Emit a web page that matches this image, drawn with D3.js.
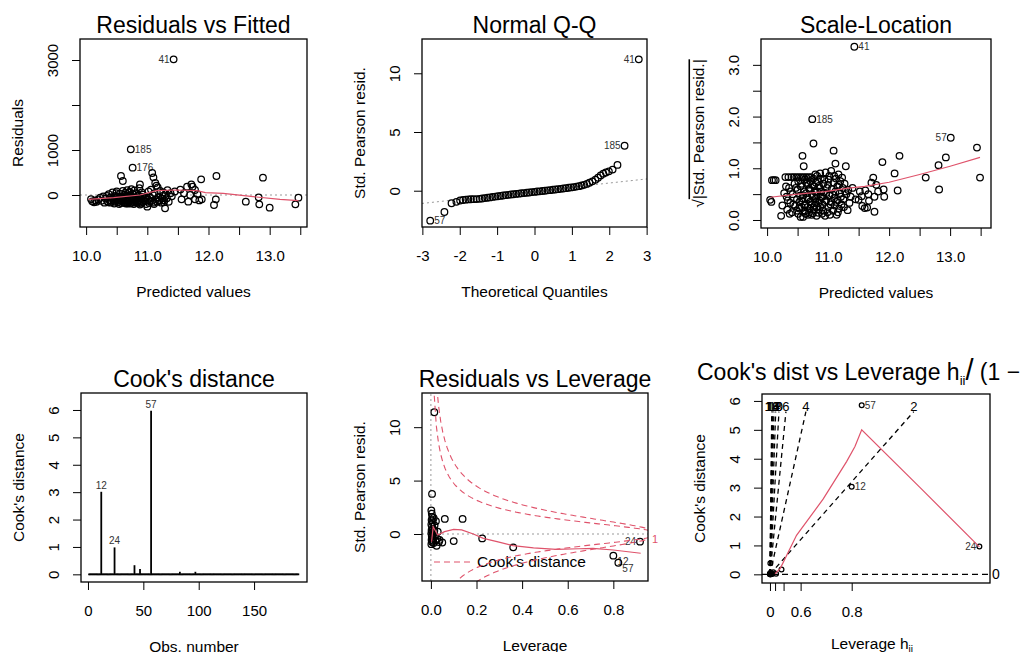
<!DOCTYPE html>
<html>
<head>
<meta charset="utf-8">
<script src="https://cdnjs.cloudflare.com/ajax/libs/d3/7.8.5/d3.min.js"></script>
<style>
    body { margin: 0; background: #fff; }
    svg text { font-family: "Liberation Sans", Arial, sans-serif; fill: #000; }
</style>
</head>
<body>
<div class="B"></div>
<script>
// ---- Residuals vs Fitted : [predicted value, residual]
var residFitted = [
    [10.08, -90], [10.10, -140], [10.13, -160], [10.15, -120], [10.17, -150], [10.20, -100], [10.23, -60], [10.25, -130], [10.28, -30], [10.30, -170],
    [10.32, -80], [10.35, -140], [10.37, 20], [10.38, -110], [10.40, -170], [10.42, -50], [10.43, 60], [10.45, -130], [10.46, -190], [10.48, -20],
    [10.50, -90], [10.50, 80], [10.52, -160], [10.53, -120], [10.55, 30], [10.56, -60], [10.57, -180], [10.58, -140], [10.60, 90], [10.61, -100],
    [10.62, -30], [10.63, -170], [10.64, 50], [10.65, -130], [10.66, -70], [10.67, 110], [10.68, -190], [10.69, -10], [10.70, -150], [10.71, 70],
    [10.72, -110], [10.73, -40], [10.74, 130], [10.75, -170], [10.76, 20], [10.77, -90], [10.78, -200], [10.79, 100], [10.80, -60], [10.81, -140],
    [10.82, 40], [10.83, -180], [10.85, -20], [10.86, -120], [10.87, 150], [10.88, -210], [10.90, -80], [10.91, 60], [10.92, -160], [10.93, 10],
    [10.34, -20], [10.36, -160], [10.39, -60], [10.41, -120], [10.44, -90], [10.47, -150], [10.49, 40], [10.51, -30], [10.54, -200], [10.56, -100],
    [10.59, -50], [10.61, -160], [10.63, 10], [10.65, -190], [10.67, -110], [10.69, -140], [10.70, 60], [10.72, -190], [10.74, -70], [10.75, -130],
    [10.77, 30], [10.79, -160], [10.80, -110], [10.82, -80], [10.84, -150], [10.86, -50], [10.88, -140], [10.90, -190], [10.92, -40], [10.94, -110],
    [10.57, 422], [10.60, 311], [10.73, 1015], [10.76, 607], [10.88, 235],
    [10.96, -140], [10.97, -70], [10.98, -200], [10.99, -40], [11.00, -259], [11.01, -100], [11.02, 80], [11.03, -180], [11.04, -140], [11.05, -60],
    [11.06, 120], [11.08, -130], [11.08, 489], [11.09, 0], [11.10, 393], [11.10, -170], [11.11, -200], [11.12, 40], [11.13, 267], [11.14, -90],
    [11.15, 207], [11.16, -150], [11.17, 170], [11.18, -50], [11.19, -130], [11.20, -110], [11.21, 90], [11.23, -170], [11.24, -80], [11.25, -20],
    [11.26, 60], [11.27, -160], [11.28, -120], [11.29, -296], [11.30, 30], [11.32, -70], [11.33, 110], [11.35, -150], [11.38, 40], [11.40, -30],
    [11.43, 3015], [11.45, 80],
    [11.54, 120], [11.56, -96], [11.60, 40], [11.65, 185], [11.67, -148], [11.70, 0], [11.72, 237], [11.74, 185], [11.78, 111], [11.78, -96],
    [11.82, 20], [11.85, -120], [11.88, 348], [11.89, -96],
    [12.09, -222], [12.12, -96], [12.13, 422], [12.61, -148], [12.82, -52], [12.83, -207], [12.89, 385], [13.00, -281], [13.42, -207], [13.47, -59]
];
var smoothFitted = [[10.04, -96], [10.45, -59], [10.88, 0], [11.15, 96], [11.48, 111], [11.81, 96], [11.95, 52], [12.24, 37], [12.73, -37], [13.17, -96], [13.47, -126]];
var idFitted = [['41', 11.43, 3015, 'left'], ['185', 10.73, 1015, 'right'], ['176', 10.76, 607, 'right']];

// ---- Normal Q-Q : [theoretical quantile, std. Pearson residual]
var qqPoints = [
    [-2.79, -2.55], [-2.41, -1.81], [-2.22, -1.07], [-2.09, -0.95], [-1.99, -0.83], [-1.91, -0.79], [-1.84, -0.76], [-1.77, -0.74], [-1.70, -0.73], [-1.63, -0.72],
    [-1.55, -0.71], [-1.47, -0.69], [-1.40, -0.66], [-1.33, -0.63], [-1.26, -0.60], [-1.19, -0.57], [-1.12, -0.53], [-1.05, -0.50], [-0.98, -0.47], [-0.91, -0.44],
    [-0.84, -0.41], [-0.77, -0.38], [-0.70, -0.35], [-0.63, -0.32], [-0.56, -0.30], [-0.49, -0.27], [-0.42, -0.25], [-0.35, -0.22], [-0.28, -0.20], [-0.21, -0.17],
    [-0.14, -0.15], [-0.07, -0.12], [0.00, -0.10], [0.07, -0.07], [0.14, -0.05], [0.21, -0.02], [0.28, 0.00], [0.35, 0.03], [0.42, 0.05], [0.49, 0.08],
    [0.56, 0.10], [0.63, 0.13], [0.70, 0.16], [0.77, 0.19], [0.84, 0.22], [0.91, 0.25], [0.98, 0.28], [1.05, 0.31], [1.12, 0.35], [1.19, 0.39],
    [1.26, 0.44], [1.33, 0.50], [1.40, 0.58], [1.47, 0.68], [1.55, 0.80], [1.63, 0.93], [1.70, 1.10], [1.77, 1.30], [1.84, 1.45], [1.91, 1.55],
    [1.99, 1.65], [2.09, 1.80], [2.22, 2.20], [2.41, 3.83], [2.79, 11.19]
];
var qqLine = [-0.04, 0.347];   // intercept, slope
var idQQ = [['41', 2.79, 11.19, 'left'], ['185', 2.41, 3.83, 'left'], ['57', -2.79, -2.55, 'right']];

// ---- Scale-Location : [predicted value, sqrt|std. Pearson resid.|]
var scaleLoc = [
    [10.05, 0.39], [10.07, 0.35], [10.08, 0.77], [10.11, 0.77], [10.14, 0.77],
    [10.23, 0.08], [10.25, 0.28], [10.28, 0.52], [10.30, 0.83], [10.32, 0.45], [10.33, 0.20], [10.35, 0.83], [10.36, 0.62], [10.38, 0.33], [10.40, 0.83],
    [10.41, 0.15], [10.42, 0.50], [10.44, 0.83], [10.45, 0.70], [10.46, 0.27], [10.48, 0.83], [10.49, 0.40], [10.50, 0.58], [10.51, 0.12], [10.52, 0.83],
    [10.53, 0.35], [10.54, 0.47], [10.55, 0.06], [10.55, 0.65], [10.56, 0.83], [10.57, 0.25], [10.58, 1.24], [10.58, 0.42], [10.59, 0.06], [10.60, 1.04],
    [10.60, 0.83], [10.61, 0.55], [10.62, 0.18], [10.63, 0.30], [10.64, 0.83], [10.65, 0.72], [10.66, 0.44], [10.67, 0.10], [10.68, 0.83], [10.69, 0.60],
    [10.70, 0.22], [10.71, 0.36], [10.72, 0.83], [10.73, 0.50], [10.74, 1.95], [10.75, 0.13], [10.76, 1.48], [10.76, 0.80], [10.77, 0.65], [10.78, 0.28],
    [10.79, 0.88], [10.80, 0.42], [10.81, 0.08], [10.82, 0.55], [10.83, 0.75], [10.84, 0.33], [10.85, 0.20], [10.86, 0.62], [10.87, 0.90], [10.88, 0.45],
    [10.90, 0.12], [10.91, 0.30], [10.92, 0.70], [10.93, 0.53], [10.95, 0.08], [10.96, 0.92], [10.97, 0.38], [10.98, 0.62], [11.00, 0.25], [11.01, 0.78],
    [11.02, 0.47], [11.03, 0.10], [11.05, 0.95], [11.05, 0.35], [11.06, 0.60], [11.08, 0.18], [11.09, 1.34], [11.09, 0.72], [11.10, 0.42], [11.11, 0.28],
    [11.12, 1.09], [11.12, 0.55], [11.13, 0.80], [11.14, 0.10], [11.15, 0.65], [11.16, 0.38], [11.17, 0.88], [11.18, 0.22], [11.19, 0.52], [11.20, 0.75],
    [11.21, 0.45], [11.22, 0.30], [11.24, 0.62], [11.25, 0.40], [11.27, 0.70], [11.29, 1.04], [11.30, 0.50], [11.32, 0.19], [11.33, 0.58], [11.35, 0.33],
    [10.31, 0.65], [10.34, 0.38], [10.37, 0.12], [10.39, 0.55], [10.43, 0.30], [10.47, 0.62], [10.49, 0.18], [10.51, 0.75], [10.53, 0.22], [10.56, 0.38],
    [10.57, 0.70], [10.59, 0.48], [10.61, 0.28], [10.62, 0.78], [10.63, 0.12], [10.64, 0.52], [10.66, 0.25], [10.67, 0.68], [10.68, 0.40], [10.69, 0.15],
    [10.70, 0.58], [10.71, 0.75], [10.72, 0.30], [10.73, 0.10], [10.74, 0.68], [10.75, 0.45], [10.77, 0.20], [10.78, 0.55], [10.79, 0.35], [10.80, 0.72],
    [10.81, 0.25], [10.82, 0.85], [10.83, 0.48], [10.84, 0.14], [10.85, 0.66], [10.86, 0.38], [10.87, 0.25], [10.88, 0.80], [10.89, 0.55], [10.91, 0.45],
    [10.92, 0.18], [10.94, 0.78], [10.95, 0.35], [10.97, 0.52], [10.99, 0.15], [11.00, 0.68], [11.02, 0.85], [11.04, 0.30], [11.07, 0.50], [11.10, 0.85],
    [11.13, 0.35], [11.16, 0.15], [11.18, 0.68], [11.23, 0.82], [11.26, 0.25], [11.28, 0.55],
    [11.37, 0.45], [11.40, 0.62], [11.43, 3.35], [11.45, 0.40], [11.50, 0.39], [11.52, 0.55], [11.55, 0.46], [11.56, 0.27], [11.60, 0.23], [11.61, 0.57],
    [11.64, 0.24], [11.66, 0.50], [11.67, 0.37], [11.71, 0.72], [11.74, 0.82], [11.76, 0.45], [11.76, 0.16], [11.79, 0.68], [11.82, 0.55], [11.89, 1.12],
    [11.91, 0.59], [11.92, 0.45], [12.09, 0.90], [12.14, 0.57], [12.17, 1.24], [12.60, 0.82], [12.81, 1.06], [12.82, 0.59], [12.93, 1.21], [13.01, 1.59],
    [13.44, 1.40], [13.49, 0.82]
];
var smoothScale = [[10.05, 0.44], [10.5, 0.50], [10.95, 0.55], [11.3, 0.61], [11.6, 0.65], [12.0, 0.73], [12.5, 0.88], [13.0, 1.04], [13.49, 1.21]];
var idScale = [['41', 11.43, 3.35, 'right'], ['185', 10.74, 1.95, 'right'], ['57', 13.01, 1.59, 'left']];

// ---- Cook's distance : [obs. number, Cook's distance]; every other obs is ~0
var nObs = 190;
var cookObs = [[12, 2.98], [24, 0.95], [42, 0.30], [47, 0.16], [57, 5.94], [83, 0.06], [97, 0.06]];
var idCook = ['12', '24', '57'];

// ---- Residuals vs Leverage : [leverage, std. Pearson residual]
var levPoints = [
    [0.005, 3.75], [0.015, 11.4], [0.002, 2.2], [0.004, 1.9], [0.006, 1.6], [0.003, 1.3], [0.008, 1.1], [0.002, 0.9], [0.005, 0.7], [0.009, 0.5],
    [0.003, 0.35], [0.007, 0.2], [0.002, 0.05], [0.006, -0.1], [0.004, -0.25], [0.008, -0.4], [0.003, -0.55], [0.010, -0.65], [0.005, -0.75], [0.012, -0.85],
    [0.002, -0.95], [0.015, 0.3], [0.018, -0.2], [0.020, -0.6], [0.022, 1.2], [0.025, -1.1], [0.028, -0.45], [0.030, 0.22], [0.035, -0.75], [0.038, -0.55],
    [0.050, -0.8], [0.012, 1.5], [0.016, 0.8], [0.061, 1.41], [0.139, 1.41], [0.100, -0.66], [0.225, -0.41], [0.361, -1.25],
    [0.800, -2.03], [0.822, -2.69], [0.917, -0.72]
];
var smoothLev = [[0.003, -0.72], [0.01, 0.69], [0.03, -0.1], [0.06, 0.22], [0.1, 0.44], [0.135, 0.38], [0.186, 0.0], [0.23, -0.41], [0.29, -0.72],
    [0.36, -1.08], [0.45, -1.3], [0.55, -1.43], [0.65, -1.38], [0.71, -1.34], [0.8, -1.5], [0.92, -1.8]];
var idLev = [['24', 0.917, -0.72, 'left'], ['12', 0.800, -2.03, 'below'], ['57', 0.822, -2.69, 'below']];
var cookLevels = [0.5, 1];
var nCoef = 5;

// ---- Cook's dist vs Leverage : [h/(1-h), Cook's distance]
var cookLev = [
    [0.02, 0.38], [0.565, 0.17], [0.30, 0.02], [0.16, 0.07], [0.11, 0.01], [0.065, 0.03], [0.03, 0.05], [0.01, 0.02], [0.02, 0.0], [0.005, 0.01],
    [0.04, 0.01], [0.015, 0.03], [0.0, 0.0], [0.01, 0.0], [0.05, 0.0], [4.0, 3.03], [4.49, 5.85], [10.25, 0.96]
];
var smoothCook = [[0.25, 0.02], [0.5, 0.2], [1.3, 1.35], [2.6, 2.6], [3.75, 3.9], [4.16, 4.42], [4.49, 5.0], [7.35, 3.0], [10.25, 0.95]];
var idCookLev = [['57', 4.49, 5.85, 'right'], ['12', 4.0, 3.03, 'right'], ['24', 10.25, 0.96, 'left']];
var cookContours = [0, 2, 4, 6, 8, 10, 12, 14, 16, 18];
var contourTop = 5.63;

// ---- axis ticks
var fittedTicks = [10, 10.5, 11, 11.5, 12, 12.5, 13, 13.5];
var fittedLabels = ['10.0', '', '11.0', '', '12.0', '', '13.0', ''];
var residTicks = [0, 1000, 2000, 3000];
var residLabels = ['0', '1000', '', '3000'];
var qqTicks = [-3, -2, -1, 0, 1, 2, 3];
var stdTicks = [0, 5, 10];
var scaleTicks = [0, 0.5, 1, 1.5, 2, 2.5, 3];
var scaleLabels = ['0.0', '', '1.0', '', '2.0', '', '3.0'];
var obsTicks = [0, 50, 100, 150];
var cookTicks = [0, 1, 2, 3, 4, 5, 6];
var levTicks = [0, 0.2, 0.4, 0.6, 0.8];
var levLabels = ['0.0', '0.2', '0.4', '0.6', '0.8'];
var hTicks = [0, 0.2, 0.4, 0.6, 0.8];
var hLabels = ['0', '', '', '0.6', '0.8'];

var width = 1024, height = 652, red = '#DF536B';
var svg = d3.select('.B').append('svg').attr('width', width).attr('height', height);
var defs = svg.append('defs');

function fmt(labels) {
    return function (d, i) { return labels ? labels[i] : String(d); };
}

//一个面板: 框, 坐标轴, 标题
function panel(o) {
    var x = d3.scaleLinear().domain(o.xd).range([o.l, o.r]);
    var y = d3.scaleLinear().domain(o.yd).range([o.b, o.t]);
    var g = svg.append('g');
    defs.append('clipPath').attr('id', o.id).append('rect')
        .attr('x', o.l).attr('y', o.t).attr('width', o.r - o.l).attr('height', o.b - o.t);

    var xa = g.append('g').attr('transform', 'translate(0,' + o.b + ')')
        .call(d3.axisBottom(o.xs || x).tickValues(o.xt).tickFormat(fmt(o.xl)).tickSize(8).tickSizeOuter(0));
    var ya = g.append('g').attr('transform', 'translate(' + o.l + ',0)')
        .call(d3.axisLeft(y).tickValues(o.yt).tickFormat(fmt(o.yl)).tickSize(8).tickSizeOuter(0));
    [xa, ya].forEach(function (a) {
        a.select('.domain').remove();
        a.attr('font-size', 15).attr('font-family', null);
        a.selectAll('line').attr('stroke', '#000');
    });
    xa.selectAll('text').attr('y', 34).attr('dy', null);
    ya.selectAll('text').attr('transform', 'rotate(-90)').attr('x', 0).attr('y', -22.5)
        .attr('dy', null).attr('text-anchor', 'middle');

    var cx = (o.l + o.r) / 2, cy = (o.t + o.b) / 2;
    if (o.title) g.append('text').text(o.title).attr('x', cx).attr('y', o.t - 6)
        .attr('text-anchor', 'middle').style('font-size', '23px');
    if (o.xlab) g.append('text').text(o.xlab).attr('x', cx).attr('y', o.b + 70)
        .attr('text-anchor', 'middle').style('font-size', '15.5px');
    if (o.ylab) g.append('text').text(o.ylab).attr('transform', 'translate(' + (o.l - 57.5) + ',' + cy + ') rotate(-90)')
        .attr('text-anchor', 'middle').style('font-size', '15.5px');

    var plot = svg.append('g').attr('clip-path', 'url(#' + o.id + ')');
    svg.append('rect').attr('x', o.l).attr('y', o.t).attr('width', o.r - o.l).attr('height', o.b - o.t)
        .attr('fill', 'none').attr('stroke', '#000').attr('stroke-width', 1.3);
    return {x: x, y: y, g: g, plot: plot, cx: cx, cy: cy, o: o};
}

function points(p, data, r) {
    p.plot.append('g').selectAll('circle').data(data).enter().append('circle')
        .attr('cx', function (d) { return p.x(d[0]); })
        .attr('cy', function (d) { return p.y(d[1]); })
        .attr('r', r || 3.3)
        .attr('fill', 'none').attr('stroke', '#000').attr('stroke-width', 1.25);
}

function smooth(p, data) {
    p.plot.append('path').datum(data)
        .attr('d', d3.line().x(function (d) { return p.x(d[0]); }).y(function (d) { return p.y(d[1]); }))
        .attr('fill', 'none').attr('stroke', red).attr('stroke-width', 1.2);
}

function refLine(p, x1, y1, x2, y2) {
    p.plot.append('line').attr('x1', p.x(x1)).attr('y1', p.y(y1)).attr('x2', p.x(x2)).attr('y2', p.y(y2))
        .attr('stroke', '#999').attr('stroke-width', 1).attr('stroke-dasharray', '2,3');
}

function ids(p, data, gap) {
    gap = gap || 4;
    p.g.selectAll('.id').data(data).enter().append('text')
        .text(function (d) { return d[0]; })
        .attr('x', function (d) {
            var px = p.x(d[1]);
            return d[3] == 'left' ? px - gap : px + gap;
        })
        .attr('y', function (d) { return p.y(d[2]) + (d[3] == 'below' ? 6 : 0); })
        .attr('dy', '0.35em')
        .attr('text-anchor', function (d) { return d[3] == 'left' ? 'end' : 'start'; })
        .style('font-size', '10px').style('fill', '#333');
}

// 1. Residuals vs Fitted
var p1 = panel({id: 'c1', l: 80, r: 307, t: 39, b: 227, xd: [9.90, 13.61], yd: [-711, 3467],
    xt: fittedTicks, xl: fittedLabels, yt: residTicks, yl: residLabels,
    title: 'Residuals vs Fitted', xlab: 'Predicted values', ylab: 'Residuals'});
refLine(p1, 9.90, 0, 13.61, 0);
points(p1, residFitted);
smooth(p1, smoothFitted);
ids(p1, idFitted);

// 2. Normal Q-Q
var p2 = panel({id: 'c2', l: 422, r: 647, t: 39, b: 227, xd: [-3.01, 3.01], yd: [-3.09, 12.92],
    xt: qqTicks, yt: stdTicks,
    title: 'Normal Q-Q', xlab: 'Theoretical Quantiles', ylab: 'Std. Pearson resid.'});
refLine(p2, -3.01, qqLine[0] - 3.01 * qqLine[1], 3.01, qqLine[0] + 3.01 * qqLine[1]);
points(p2, qqPoints);
ids(p2, idQQ);

// 3. Scale-Location
var p3 = panel({id: 'c3', l: 761, r: 991, t: 39, b: 228, xd: [9.90, 13.67], yd: [-0.155, 3.50],
    xt: fittedTicks, xl: fittedLabels, yt: scaleTicks, yl: scaleLabels,
    title: 'Scale-Location', xlab: 'Predicted values'});
var yl3 = p3.g.append('text').attr('transform', 'translate(' + (761 - 57.5) + ',' + p3.cy + ') rotate(-90)')
    .attr('text-anchor', 'middle').style('font-size', '15.5px');
yl3.append('tspan').text('\u221A');
yl3.append('tspan').text('|Std. Pearson resid.|').style('text-decoration', 'overline');
points(p3, scaleLoc);
smooth(p3, smoothScale);
ids(p3, idScale);

// 4. Cook's distance
var p4 = panel({id: 'c4', l: 81, r: 307, t: 393, b: 582, xd: [-6.3, 197.8], yd: [-0.28, 6.62],
    xt: obsTicks, yt: cookTicks,
    title: "Cook's distance", xlab: 'Obs. number', ylab: "Cook's distance"});
var cookMap = {};
cookObs.forEach(function (d) { cookMap[d[0]] = d[1]; });
p4.plot.append('g').selectAll('line').data(d3.range(1, nObs + 1)).enter().append('line')
    .attr('x1', function (d) { return p4.x(d); }).attr('x2', function (d) { return p4.x(d); })
    .attr('y1', p4.y(0)).attr('y2', function (d) { return p4.y(cookMap[d] || 0) - 0.01; })
    .attr('stroke', '#000').attr('stroke-width', 1.8).attr('stroke-linecap', 'square');
p4.g.selectAll('.id').data(cookObs.filter(function (d) { return idCook.indexOf(String(d[0])) >= 0; }))
    .enter().append('text').text(function (d) { return d[0]; })
    .attr('x', function (d) { return p4.x(d[0]); }).attr('y', function (d) { return p4.y(d[1]) - 4; })
    .attr('text-anchor', 'middle').style('font-size', '10px').style('fill', '#333');

// 5. Residuals vs Leverage
var p5 = panel({id: 'c5', l: 422, r: 648, t: 393, b: 581, xd: [-0.039, 0.952], yd: [-4.4, 13.2],
    xt: levTicks, xl: levLabels, yt: stdTicks,
    title: 'Residuals vs Leverage', xlab: 'Leverage', ylab: 'Std. Pearson resid.'});
refLine(p5, 0, -4.4, 0, 13.2);
refLine(p5, -0.039, 0, 0.952, 0);
points(p5, levPoints);
smooth(p5, smoothLev);
var hMin = 0.005, hMax = 0.952;
var hh = d3.range(101).map(function (i) { return hMin + i * (hMax - hMin) / 100; });
cookLevels.forEach(function (crit) {
    [1, -1].forEach(function (s) {
        p5.plot.append('path').datum(hh)
            .attr('d', d3.line().x(function (h) { return p5.x(h); })
                .y(function (h) { return p5.y(s * Math.sqrt(crit * nCoef * (1 - h) / h)); }))
            .attr('fill', 'none').attr('stroke', red).attr('stroke-width', 1.1).attr('stroke-dasharray', '6,4');
    });
});
p5.g.append('text').text(String(cookLevels[cookLevels.length - 1]))
    .attr('x', 648 + 4).attr('y', p5.y(-Math.sqrt(cookLevels[cookLevels.length - 1] * nCoef * (1 - hMax) / hMax)))
    .attr('dy', '0.35em').style('font-size', '11px').style('fill', red);
p5.g.append('line').attr('x1', 434).attr('x2', 473).attr('y1', 562).attr('y2', 562)
    .attr('stroke', red).attr('stroke-width', 1.1).attr('stroke-dasharray', '6,4');
p5.g.append('text').text("Cook's distance").attr('x', 477).attr('y', 567).style('font-size', '15.5px');
ids(p5, idLev);

// 6. Cook's dist vs Leverage h/(1-h)
var x6 = d3.scaleLinear().domain([-0.39, 10.77]).range([762, 990]);
var p6 = panel({id: 'c6', l: 762, r: 990, t: 394, b: 583, xd: [-0.39, 10.77], yd: [-0.3, 6.24],
    xs: x6, xt: hTicks.map(function (h) { return h / (1 - h); }), xl: hLabels, yt: cookTicks,
    ylab: "Cook's distance"});
var t6 = p6.g.append('text').attr('x', 697).attr('y', 380).style('font-size', '23px');
t6.append('tspan').text("Cook's dist vs Leverage  h");
t6.append('tspan').text('ii').attr('dy', 5).style('font-size', '13px');
t6.append('tspan').text('/').attr('dy', -5).style('font-size', '29px');
t6.append('tspan').text(' (1 \u2212 h');
t6.append('tspan').text('ii').attr('dy', 5).style('font-size', '13px');
t6.append('tspan').text(')').attr('dy', -5);
var xl6 = p6.g.append('text').attr('x', p6.cx - 4).attr('y', 583 + 66).attr('text-anchor', 'middle').style('font-size', '15.5px');
xl6.append('tspan').text('Leverage  h');
xl6.append('tspan').text('ii').attr('dy', 4).style('font-size', '10px');

cookContours.forEach(function (b) {
    if (b == 0) {
        p6.plot.append('line').attr('x1', 762).attr('x2', 990).attr('y1', p6.y(0)).attr('y2', p6.y(0))
            .attr('stroke', '#000').attr('stroke-width', 1.3).attr('stroke-dasharray', '6,4');
        p6.g.append('text').text('0').attr('x', 992).attr('y', p6.y(0)).attr('dy', '0.35em').style('font-size', '14px');
    } else {
        var xe = nCoef * contourTop / (b * b);
        p6.plot.append('line').attr('x1', p6.x(0)).attr('y1', p6.y(0)).attr('x2', p6.x(xe)).attr('y2', p6.y(contourTop))
            .attr('stroke', '#000').attr('stroke-width', 1.3).attr('stroke-dasharray', '5,4');
        p6.g.append('text').text(b).attr('x', p6.x(xe)).attr('y', p6.y(contourTop) - 1)
            .attr('text-anchor', 'middle').style('font-size', '13px');
    }
});
points(p6, cookLev, 2.4);
smooth(p6, smoothCook);
ids(p6, idCookLev, 3);
</script>
</body>
</html>
